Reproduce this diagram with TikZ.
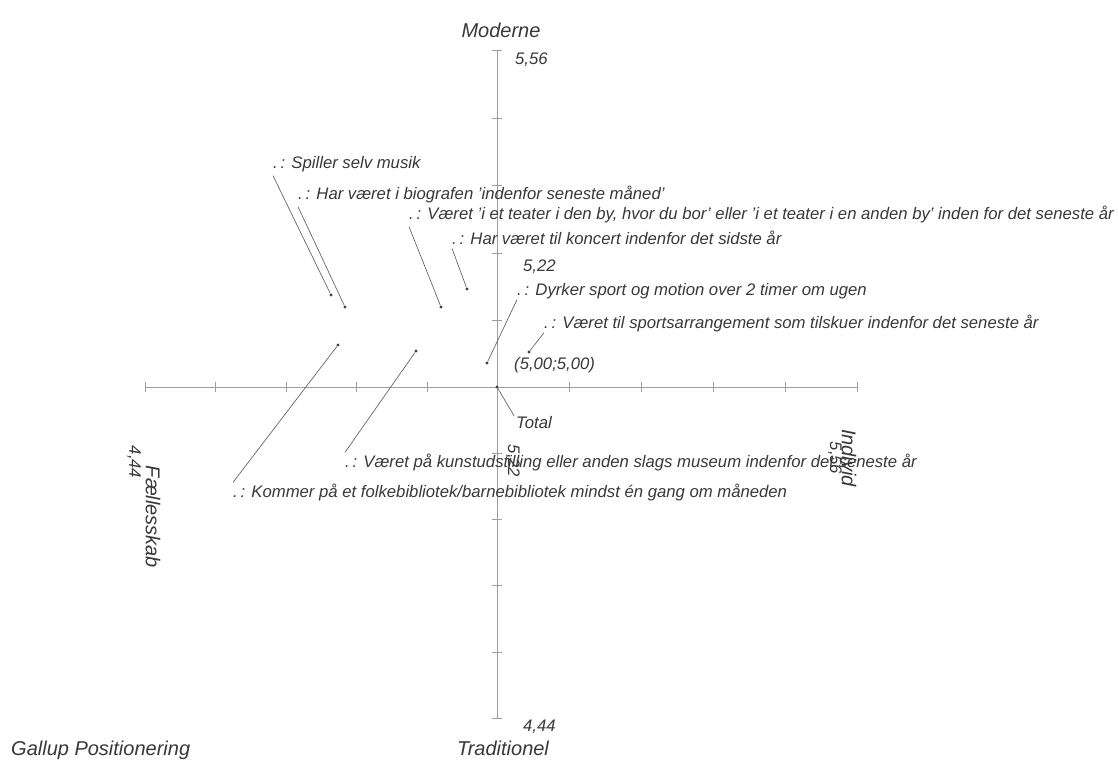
\documentclass[tikz,border=0pt]{standalone}
\usepackage{fontspec}
\setmainfont{Liberation Sans}
\begin{document}
\begin{tikzpicture}[x=1pt,y=1pt]
	\tikzstyle{every node}+=[inner sep=0pt, text=black!78, font=\fontsize{16.7}{18}\selectfont\itshape]
	\tikzstyle{axis}=[black!38, line width=0.9pt]
	\tikzstyle{leader}=[black!60, line width=0.7pt]
	\tikzstyle{dot}=[circle, fill=black!75, minimum size=3.4pt]
	\tikzstyle{lbl}=[anchor=base west]
	\tikzstyle{title}=[font=\fontsize{20}{22}\selectfont\itshape]
	\useasboundingbox (0,0) rectangle (1119,-760);
	\coordinate (W) at (145,-387);
	\coordinate (E) at (857,-387);
	\coordinate (N) at (497,-50);
	\coordinate (S) at (497,-718);
	\draw [axis] (W) -- (E);
	\draw [axis] (N) -- (S);
	\foreach \x in {145,215,286,356,427,569,641,713,785,857}
		\draw [axis] (\x,-382) -- (\x,-392);
	\foreach \y in {50,118,185,253,320,453,519,585,652,718}
		\draw [axis] (492,-\y) -- (502,-\y);
	\node [title] (moderne) at (501,-30) {Moderne};
	\node [lbl] (top) at (515,-64) {5,56};
	\node [title] (trad) at (503,-748) {Traditionel};
	\node [lbl] (bottom) at (523,-731) {4,44};
	\node [lbl, title] (gallup) at (11,-755) {Gallup Positionering};
	\node [title, rotate=-90] (faelles) at (153,-517) {Fællesskab};
	\node [rotate=-90] (left) at (134,-462) {4,44};
	\node [title, rotate=-90] (individ) at (849,-458) {Individ};
	\node [rotate=-90] (right) at (835,-458) {5,56};
	\node [rotate=-90] (mid) at (513,-461) {5,22};
	\node [lbl] (vmid) at (523,-271) {5,22};
	\node [lbl] (origo) at (514,-369) {(5,00;5,00)};
	\node [dot] (total) at (497,-387) {};
	\node [dot] (musik) at (331,-295) {};
	\node [dot] (bio) at (345,-307) {};
	\node [dot] (teater) at (441,-307) {};
	\node [dot] (koncert) at (467,-289) {};
	\node [dot] (sport) at (487,-363) {};
	\node [dot] (tilskuer) at (529,-352) {};
	\node [dot] (kunst) at (416,-351) {};
	\node [dot] (bibl) at (338,-345) {};
	\node [lbl] (lmusik) at (273,-168) {.\,: Spiller selv musik};
	\node [lbl] (lbio) at (298,-199) {.\,: Har været i biografen 'indenfor seneste måned'};
	\node [lbl] (lteater) at (409,-219) {.\,: Været 'i et teater i den by, hvor du bor' eller 'i et teater i en anden by' inden for det seneste år};
	\node [lbl] (lkoncert) at (452,-244) {.\,: Har været til koncert indenfor det sidste år};
	\node [lbl] (lsport) at (517,-295) {.\,: Dyrker sport og motion over 2 timer om ugen};
	\node [lbl] (ltilskuer) at (544,-328) {.\,: Været til sportsarrangement som tilskuer indenfor det seneste år};
	\node [lbl] (ltotal) at (516,-428) {Total};
	\node [lbl] (lkunst) at (345,-467) {.\,: Været på kunstudstilling eller anden slags museum indenfor det seneste år};
	\node [lbl] (lbibl) at (233,-497) {.\,: Kommer på et folkebibliotek/barnebibliotek mindst én gang om måneden};
	\draw [leader] ([yshift=-4]lmusik.south west) -- (musik);
	\draw [leader] ([yshift=-4]lbio.south west) -- (bio);
	\draw [leader] ([yshift=-4]lteater.south west) -- (teater);
	\draw [leader] ([yshift=-4]lkoncert.south west) -- (koncert);
	\draw [leader] ([yshift=-1]lsport.south west) -- (sport);
	\draw [leader] ([yshift=-1]ltilskuer.south west) -- (tilskuer);
	\draw [leader] (total) -- ([xshift=-2]ltotal.north west);
	\draw [leader] (kunst) -- ([yshift=1]lkunst.north west);
	\draw [leader] (bibl) -- ([yshift=1]lbibl.north west);
\end{tikzpicture}
\end{document}
